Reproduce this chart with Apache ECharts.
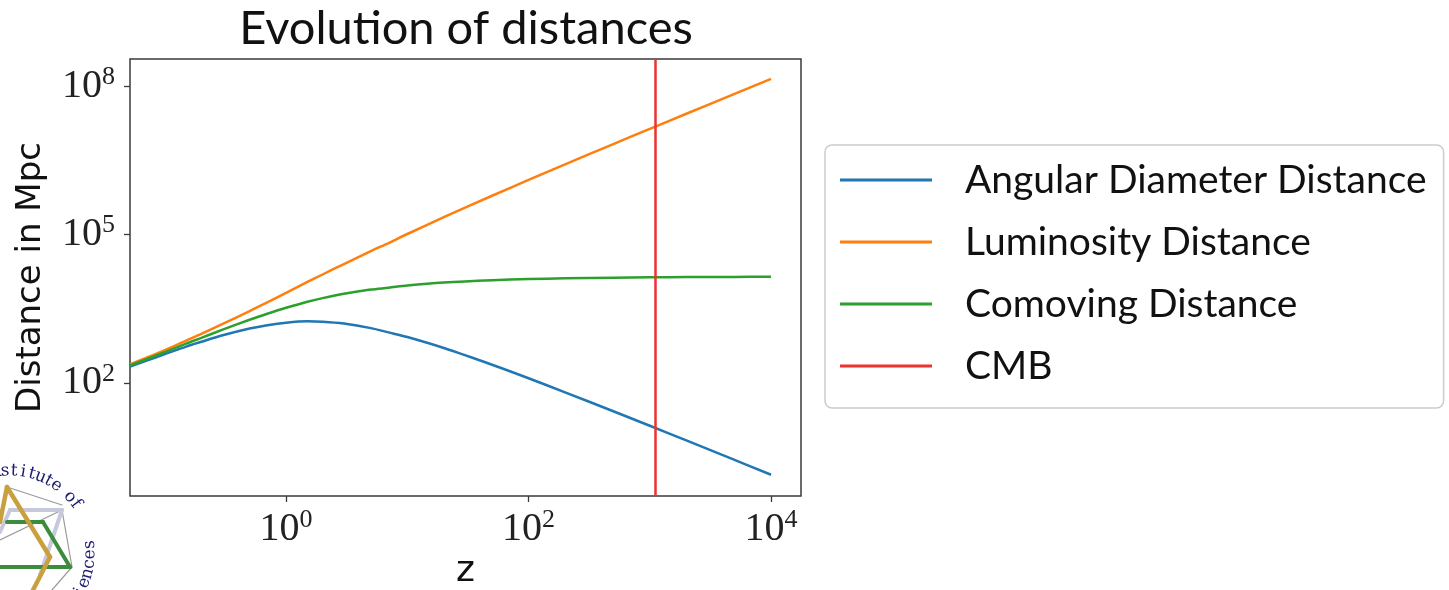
<!DOCTYPE html>
<html>
<head>
<meta charset="utf-8">
<title>Evolution of distances</title>
<script src="https://cdn.jsdelivr.net/npm/echarts@6.0.0/dist/echarts.min.js"></script>
<style>
  html, body { margin: 0; padding: 0; background: #fff; }
  #chart { width: 1449px; height: 590px; }
</style>
</head>
<body>
<div id="chart"></div>
<script>
// redshift samples
const zValues = [0.0516, 0.07, 0.1, 0.15, 0.2, 0.3, 0.5, 0.7, 1, 1.5, 2, 3, 5, 7, 10, 20, 50, 100, 200, 500, 1000, 2000, 5000, 10000]
// distances in Mpc
const angularDistance = [214, 280, 382, 543, 679, 919, 1260, 1471, 1650, 1756, 1727, 1583, 1283, 1050, 845, 507, 233, 124.3, 64.7, 26.8, 13.62, 6.89, 2.78, 1.397]
const luminosityDistance = [237, 321, 462, 719, 978, 1554, 2835, 4250, 6600, 10975, 15540, 25320, 46200, 67200, 102300, 223650, 606900, 1267550, 2613000, 6723420, 13643630, 27573780, 69513900, 139713970]
const comovingDistance = [225, 300, 420, 625, 815, 1195, 1890, 2500, 3300, 4390, 5180, 6330, 7700, 8400, 9300, 10650, 11900, 12550, 13000, 13420, 13630, 13780, 13900, 13970]
const zCMB = 1100
const seriesNames = ['Angular Diameter Distance', 'Luminosity Distance', 'Comoving Distance', 'CMB']
const xTicks = [1, 100, 10000]
const yTicks = [100, 100000, 100000000]

const colors = ['#1f77b4', '#ff7f0e', '#2ca02c', '#ee3131']

function pairs(ys) {
  return zValues.map((z, i) => [z, ys[i]])
}

function powLabel(v) {
  return '{b|10}{e|' + Math.round(Math.log10(v)) + '}'
}

const tickRich = {
  b: { fontFamily: 'Liberation Serif', fontSize: 40, color: '#222', lineHeight: 44 },
  e: { fontFamily: 'Liberation Serif', fontSize: 26, color: '#222', verticalAlign: 'top', lineHeight: 30 }
}

// logo in the lower left corner (decoration only)
function logoElements() {
  let els = []
  const bars = [
    ['#9a9a9a', 1.2, [7, 487, 62, 505]],
    ['#9a9a9a', 1.2, [62, 510, 72, 567]],
    ['#9a9a9a', 1.2, [72, 567, 52, 590]],
    ['#9a9a9a', 1.2, [0, 540, 62, 510]],
    ['#c8c8dc', 4, [10, 510, 62, 510]],
    ['#c8c8dc', 4, [62, 510, 40, 575]],
    ['#c8c8dc', 4, [10, 510, 0, 532]],
    ['#3d8b3d', 4, [7, 522, 43, 522]],
    ['#3d8b3d', 4, [43, 522, 70, 567]],
    ['#3d8b3d', 4, [0, 567, 70, 567]],
    ['#c9a040', 4.5, [7, 487, 50, 557]],
    ['#c9a040', 4.5, [7, 487, 0, 522]],
    ['#c9a040', 4.5, [50, 557, 32, 592]]
  ]
  bars.forEach(b => {
    els.push({
      type: 'line',
      shape: { x1: b[2][0], y1: b[2][1], x2: b[2][2], y2: b[2][3] },
      style: { stroke: b[0], lineWidth: b[1], lineCap: 'round' },
      silent: true
    })
  })
  const cx = 10, cy = 553, r = 82
  const top = 'Institute of'
  top.split('').forEach((ch, i) => {
    const a = (-106 + i * 6.3) * Math.PI / 180
    els.push({
      type: 'text', x: cx + r * Math.cos(a), y: cy + r * Math.sin(a),
      rotation: -(a + Math.PI / 2),
      style: { text: ch, fill: '#1c1c70', fontSize: 17, fontFamily: 'DejaVu Serif', align: 'center', verticalAlign: 'middle' },
      silent: true
    })
  })
  const bottom = 'Sciences'
  bottom.split('').forEach((ch, i) => {
    const a = (43 - i * 7) * Math.PI / 180
    els.push({
      type: 'text', x: cx + 80 * Math.cos(a), y: cy + 80 * Math.sin(a),
      rotation: Math.PI / 2 - a,
      style: { text: ch, fill: '#1c1c70', fontSize: 17, fontFamily: 'DejaVu Serif', align: 'center', verticalAlign: 'middle' },
      silent: true
    })
  })
  return els
}

const myChart = echarts.init(document.getElementById('chart'), null, { renderer: 'canvas' })

let option = {
  animation: false,
  color: colors,
  title: {
    text: 'Evolution of distances',
    left: 461,
    top: 0,
    textAlign: 'center',
    textStyle: { fontFamily: 'Lato', fontWeight: 'normal', fontSize: 47, color: '#111' }
  },
  legend: {
    orient: 'vertical',
    left: 825,
    top: 145,
    data: seriesNames,
    icon: 'rect',
    itemWidth: 92,
    itemHeight: 3,
    itemGap: 22,
    padding: [15, 17, 22, 15],
    backgroundColor: '#fff',
    borderColor: '#cccccc',
    borderWidth: 1.5,
    borderRadius: 7,
    textStyle: { fontFamily: 'Lato', fontSize: 39, color: '#111', lineHeight: 40, padding: [0, 0, 0, 28] }
  },
  grid: {
    left: 130,
    right: 648,
    top: 59,
    bottom: 94,
    outerBoundsMode: 'none',
    show: true,
    borderColor: '#3a3a3a',
    borderWidth: 1.5,
    backgroundColor: 'transparent'
  },
  xAxis: {
    type: 'log',
    logBase: 10,
    min: 0.0516,
    max: 17660,
    axisLine: { show: false },
    splitLine: { show: false },
    axisTick: { show: true, inside: false, length: 6, customValues: xTicks, lineStyle: { color: '#3a3a3a', width: 1.3 } },
    axisLabel: { customValues: xTicks, margin: 11, formatter: powLabel, rich: tickRich },
    name: 'z',
    nameLocation: 'middle',
    nameGap: 57,
    nameTextStyle: { fontFamily: 'DejaVu Sans', fontSize: 36, color: '#111' }
  },
  yAxis: {
    type: 'log',
    logBase: 10,
    min: 0.519,
    max: 352000000,
    axisLine: { show: false },
    splitLine: { show: false },
    axisTick: { show: true, inside: false, length: 6, customValues: yTicks, lineStyle: { color: '#3a3a3a', width: 1.3 } },
    axisLabel: { customValues: yTicks, margin: 15, formatter: powLabel, rich: tickRich },
    name: 'Distance in Mpc',
    nameLocation: 'middle',
    nameGap: 82,
    nameRotate: 90,
    nameTextStyle: { fontFamily: 'DejaVu Sans', fontSize: 34, color: '#111' }
  },
  series: [
    {
      name: seriesNames[0],
      type: 'line',
      data: pairs(angularDistance),
      showSymbol: false,
      smooth: 0.3,
      lineStyle: { width: 2.5, color: colors[0] },
      itemStyle: { color: colors[0] }
    },
    {
      name: seriesNames[1],
      type: 'line',
      data: pairs(luminosityDistance),
      showSymbol: false,
      smooth: 0.3,
      lineStyle: { width: 2.5, color: colors[1] },
      itemStyle: { color: colors[1] }
    },
    {
      name: seriesNames[2],
      type: 'line',
      data: pairs(comovingDistance),
      showSymbol: false,
      smooth: 0.3,
      lineStyle: { width: 2.5, color: colors[2] },
      itemStyle: { color: colors[2] }
    },
    {
      name: seriesNames[3],
      type: 'line',
      data: [],
      itemStyle: { color: colors[3] },
      lineStyle: { color: colors[3] },
      markLine: {
        silent: true,
        symbol: ['none', 'none'],
        label: { show: false },
        lineStyle: { color: colors[3], width: 2.5, type: 'solid' },
        data: [{ xAxis: zCMB }]
      }
    }
  ],
  graphic: logoElements()
}

myChart.setOption(option)
window.onresize = myChart.resize
</script>
</body>
</html>
